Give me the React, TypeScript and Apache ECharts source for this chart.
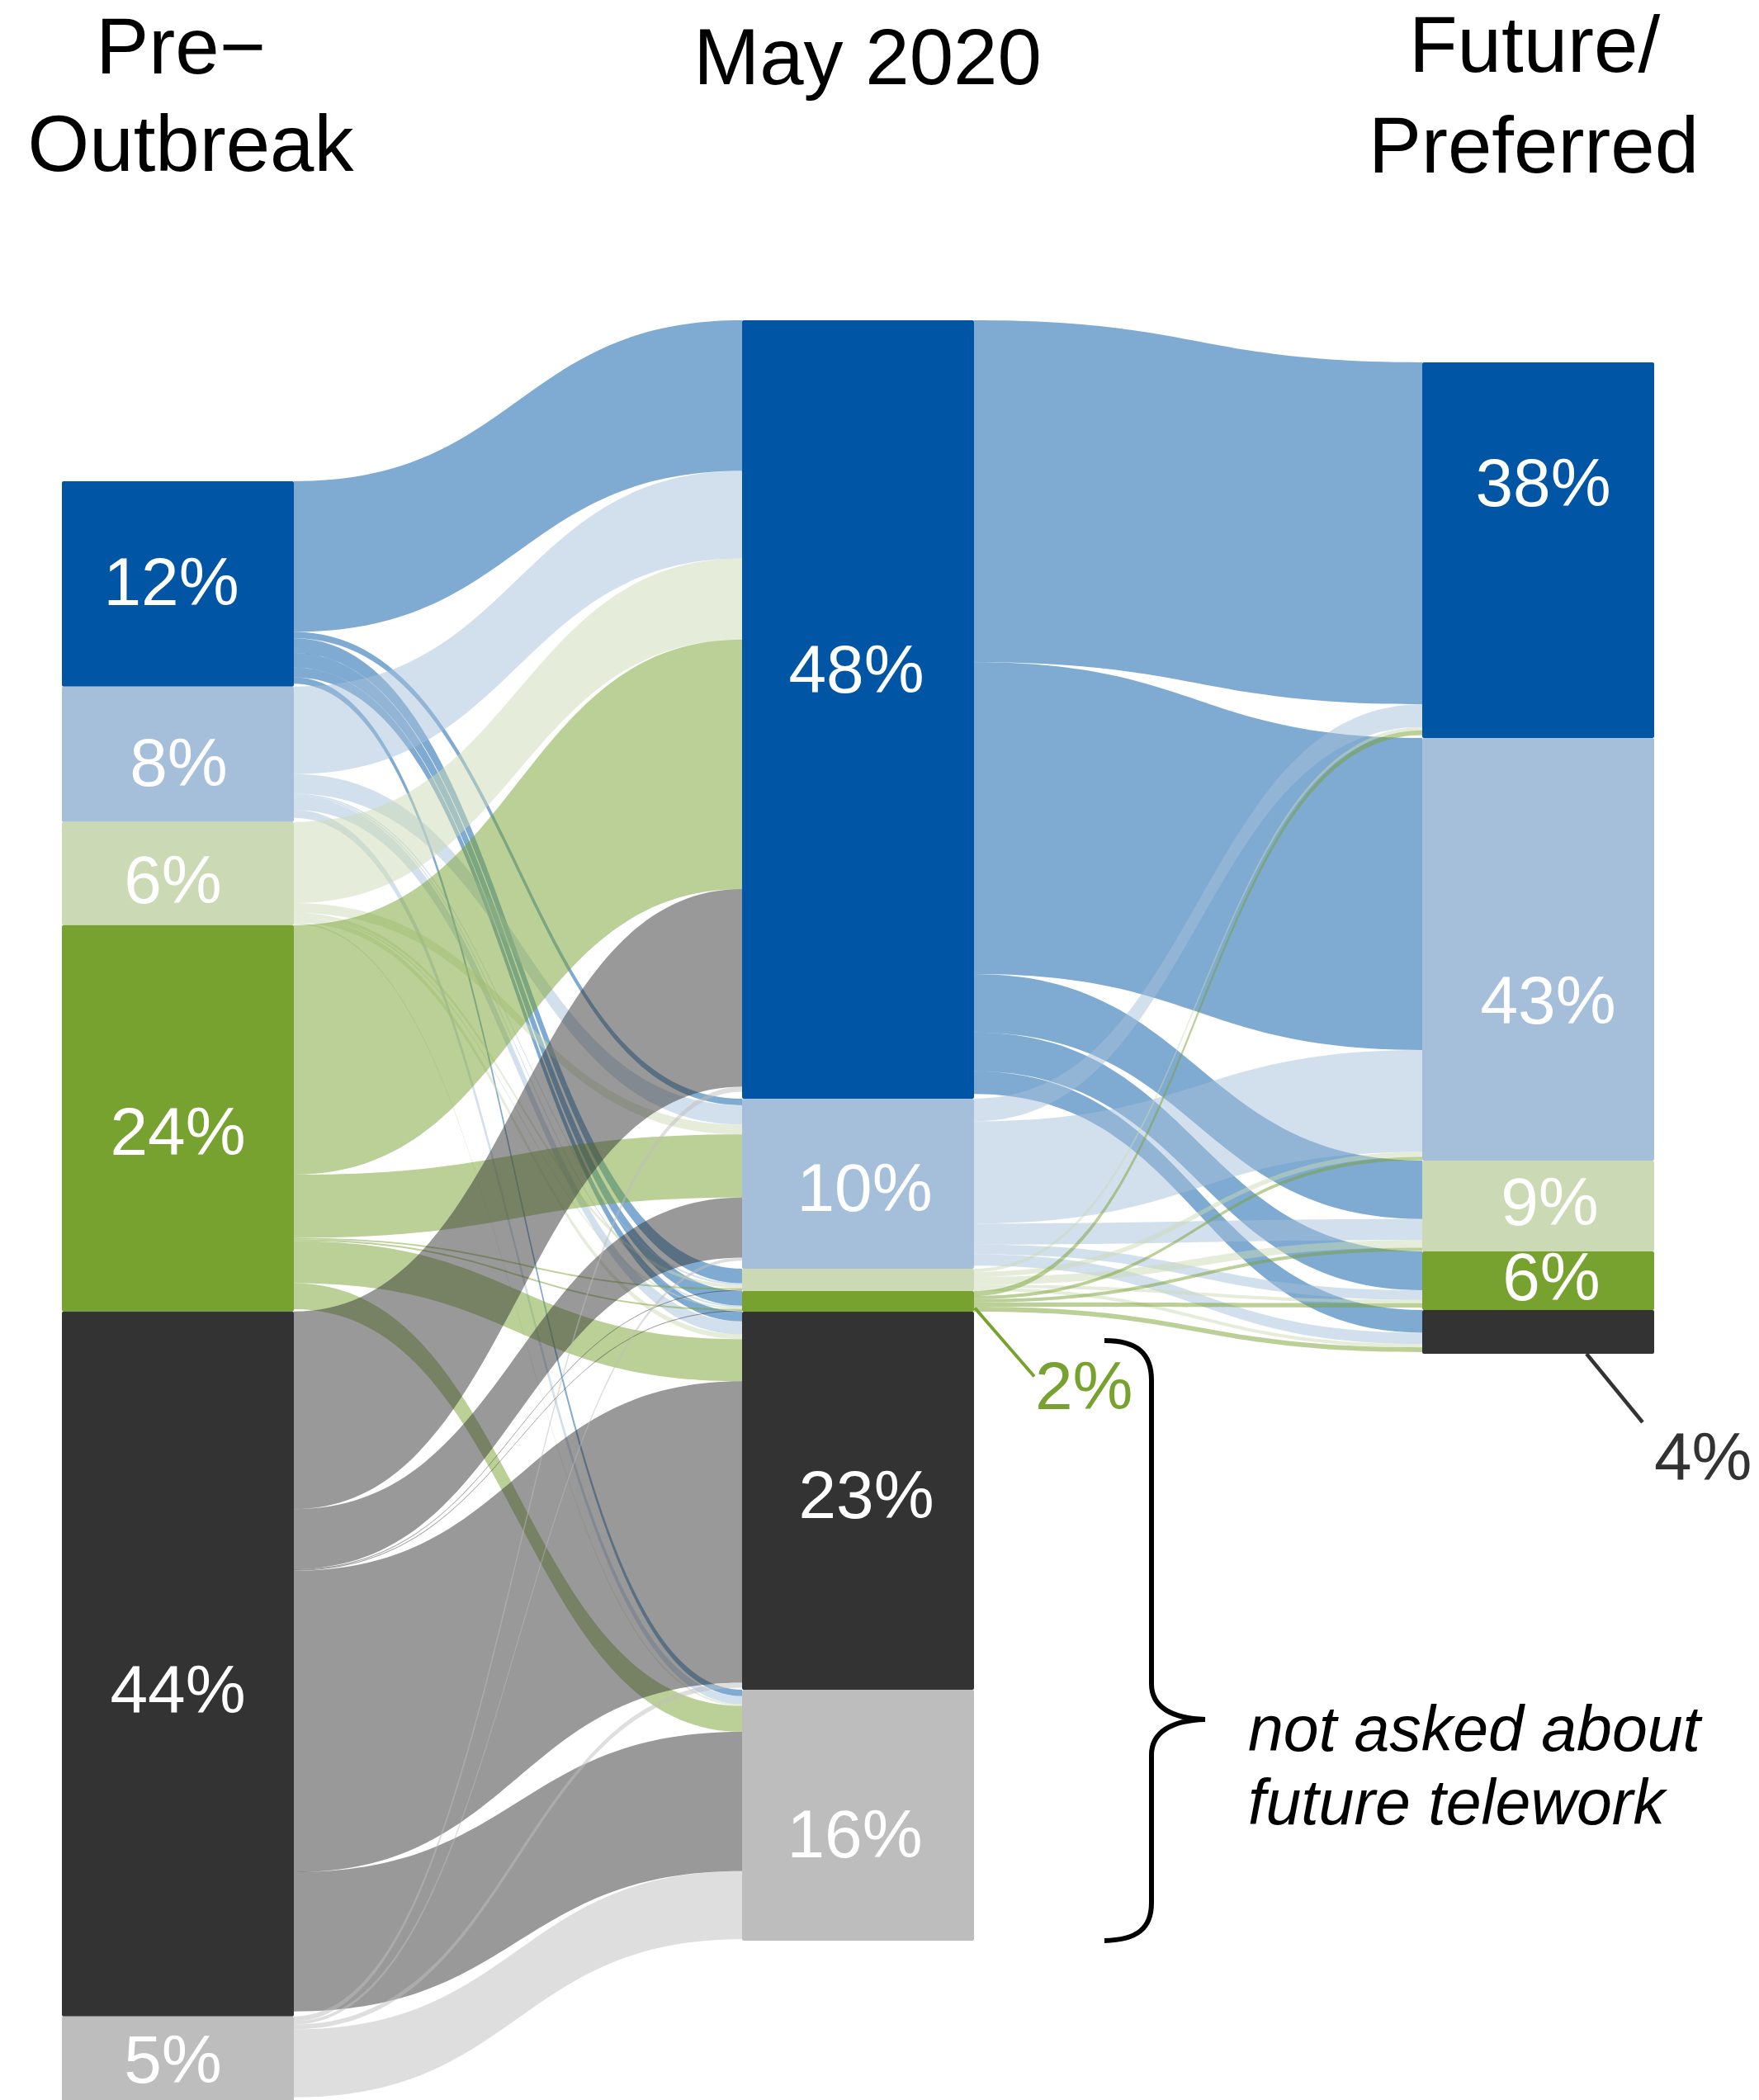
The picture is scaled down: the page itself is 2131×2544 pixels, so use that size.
import React, { useEffect, useRef } from 'react';
import * as echarts from 'echarts';

const FONT = "'Liberation Sans', Arial, Helvetica, sans-serif";

// ---------------- data ----------------
const categoryColors = ['#0055A4', '#A5BFDB', '#CBDAB4', '#78A22F', '#333333', '#BDBDBD'];

const stageTitles = [['Pre−', 'Outbreak'], ['May 2020'], ['Future/', 'Preferred']];

const preLabels = ['12%', '8%', '6%', '24%', '44%', '5%'];
const preValues = [12.68, 8.35, 6.37, 23.84, 43.5, 5.26];

const mayLabels = ['48%', '10%', '', '', '23%', '16%'];
const mayValues = [48.04, 10.49, 1.38, 1.27, 23.33, 15.49];

const futureLabels = ['38%', '43%', '9%', '6%', ''];
const futureValues = [23.18, 26.08, 5.6, 3.62, 2.7];

// flows: rows = source category, columns = target category
const preToMay = [
  [9.3, 0.4, 0.9, 0.9, 0.6, 0.4],
  [5.4, 1.2, 0.1, 0.1, 0.8, 0.5],
  [5.0, 0.6, 0.2, 0.1, 0.3, 0.1],
  [15.4, 3.9, 0.1, 0.1, 2.6, 1.6],
  [12.2, 3.7, 0.05, 0.05, 18.6, 8.6],
  [0.3, 0.2, 0, 0, 0.3, 4.2],
];
const mayToFuture = [
  [21.1, 19.25, 3.6, 2.4, 1.4],
  [1.4, 6.3, 1.3, 0.6, 0.7],
  [0.2, 0.3, 0.48, 0.2, 0.2],
  [0.3, 0.2, 0.2, 0.27, 0.3],
];

const calloutMay = '2%';
const calloutFuture = '4%';
const bracketText = ['not asked about', 'future telework'];

// ---------------- layout / style ----------------
const W = 2131;
const H = 2544;
const LEFT = 75;
const LAYOUT_W = 1929;
const TOP = 388;
const LAYOUT_H = 1963;
const NODE_W = 281;
const COL_OFFSET = [9.93, 0, 2.6];
const LABEL_SIZE = 82;
const TITLE_SIZE = 96;

const preLabelOffset = [[-8, -3], [1, 10], [-6, 7], [0, 16], [0, 31], [-6, 0]];
const mayLabelOffset = [[-2, -49], [8, 5], [0, 0], [0, 0], [10, -7], [-4, 23]];
const futureLabelOffset = [[6, -82], [12, 61], [14, -5], [16, -5], [0, 0]];

const stages = [
  { labels: preLabels, values: preValues, offsets: preLabelOffset },
  { labels: mayLabels, values: mayValues, offsets: mayLabelOffset },
  { labels: futureLabels, values: futureValues, offsets: futureLabelOffset },
];

const sum = (a: number[]) => a.reduce((s, v) => s + v, 0);

const BRACE_D =
  'M1338,1624 C1378,1624 1395,1640 1395,1672 L1395,2040 C1395,2068 1420,2082 1460,2083 ' +
  'C1420,2084 1395,2098 1395,2126 L1395,2305 C1395,2336 1378,2350 1338,2351';

function buildOption() {
  const ky = LAYOUT_H / Math.max(sum(preValues), sum(mayValues), sum(futureValues));
  const colX = [0, 1, 2].map((c) => LEFT + (c * (LAYOUT_W - NODE_W)) / 2);

  const nodes: any[] = [];
  stages.forEach((st, c) => {
    let cum = COL_OFFSET[c];
    st.values.forEach((v, i) => {
      nodes.push({
        name: `s${c}_${i}`,
        value: v,
        depth: c,
        localY: (cum * ky) / LAYOUT_H,
        itemStyle: { color: categoryColors[i], borderWidth: 0, borderRadius: 2 },
        label: {
          show: st.labels[i] !== '',
          formatter: st.labels[i] || ' ',
          offset: st.offsets[i],
        },
      });
      cum += v;
    });
  });

  const links: any[] = [];
  preToMay.forEach((row, i) =>
    row.forEach((v, j) => {
      if (v > 0) links.push({ source: `s0_${i}`, target: `s1_${j}`, value: v });
    })
  );
  mayToFuture.forEach((row, i) =>
    row.forEach((v, j) => {
      if (v > 0) links.push({ source: `s1_${i}`, target: `s2_${j}`, value: v });
    })
  );

  // callout anchors derived from layout
  const g2Center = TOP + (COL_OFFSET[1] + mayValues[0] + mayValues[1] + mayValues[2] + mayValues[3] / 2) * ky;
  const g2Right = colX[1] + NODE_W;
  const f5Bottom = TOP + (COL_OFFSET[2] + sum(futureValues)) * ky;
  const f5X = colX[2] + 199;

  const textEl = (
    text: string,
    x: number,
    baseline: number,
    size: number,
    fill: string,
    align: string,
    italic = false
  ) => ({
    type: 'text',
    x,
    y: baseline - 0.3465 * size,
    silent: true,
    style: {
      text,
      fill,
      fontSize: size,
      fontFamily: FONT,
      fontStyle: italic ? 'italic' : 'normal',
      align,
      textAlign: align,
      verticalAlign: 'middle',
      textVerticalAlign: 'middle',
    },
  });

  const graphic: any[] = [
    textEl(stageTitles[0][0], 219, 89, TITLE_SIZE, '#000', 'center'),
    textEl(stageTitles[0][1], 231, 207, TITLE_SIZE, '#000', 'center'),
    textEl(stageTitles[1][0], 1051, 102, TITLE_SIZE, '#000', 'center'),
    textEl(stageTitles[2][0], 1859, 87, TITLE_SIZE, '#000', 'center'),
    textEl(stageTitles[2][1], 1858, 209, TITLE_SIZE, '#000', 'center'),
    {
      type: 'line',
      silent: true,
      shape: { x1: g2Right + 1, y1: g2Center + 8, x2: g2Right + 73, y2: g2Center + 91 },
      style: { stroke: '#78A22F', lineWidth: 4 },
    },
    textEl(calloutMay, g2Right + 74, 1707, LABEL_SIZE, '#78A22F', 'left'),
    {
      type: 'line',
      silent: true,
      shape: { x1: f5X, y1: f5Bottom, x2: f5X + 68, y2: f5Bottom + 83 },
      style: { stroke: '#333333', lineWidth: 4.5 },
    },
    textEl(calloutFuture, 2004, 1793, LABEL_SIZE, '#333333', 'left'),
    {
      type: 'brace',
      silent: true,
      x: 0,
      y: 0,
      style: { stroke: '#000', lineWidth: 6, fill: 'none' },
    },
    textEl(bracketText[0], 1512, 2121, 77, '#000', 'left', true),
    textEl(bracketText[1], 1512, 2210, 77, '#000', 'left', true),
  ];

  return {
    animation: false,
    backgroundColor: '#ffffff',
    series: [
      {
        type: 'sankey',
        left: LEFT,
        top: TOP,
        width: LAYOUT_W,
        height: LAYOUT_H,
        nodeWidth: NODE_W,
        nodeGap: 0,
        nodeAlign: 'left',
        layoutIterations: 0,
        draggable: false,
        emphasis: { disabled: true },
        data: nodes,
        links,
        lineStyle: { color: 'source', opacity: 0.5, curveness: 0.5 },
        label: {
          position: 'inside',
          color: '#ffffff',
          fontSize: LABEL_SIZE,
          fontFamily: FONT,
        },
      },
    ],
    graphic,
  };
}

export default function App() {
  const ref = useRef<HTMLDivElement>(null);
  useEffect(() => {
    if (!ref.current) return;
    try {
      echarts.graphic.registerShape('brace', echarts.graphic.extendPath(BRACE_D, {}));
    } catch (e) {
      // already registered
    }
    const chart = echarts.init(ref.current, undefined, { renderer: 'svg' });
    chart.setOption(buildOption() as any);
    return () => chart.dispose();
  }, []);
  return (
    <div
      ref={ref}
      style={{ position: 'absolute', left: 0, top: 0, width: W, height: H, background: '#fff' }}
    />
  );
}
